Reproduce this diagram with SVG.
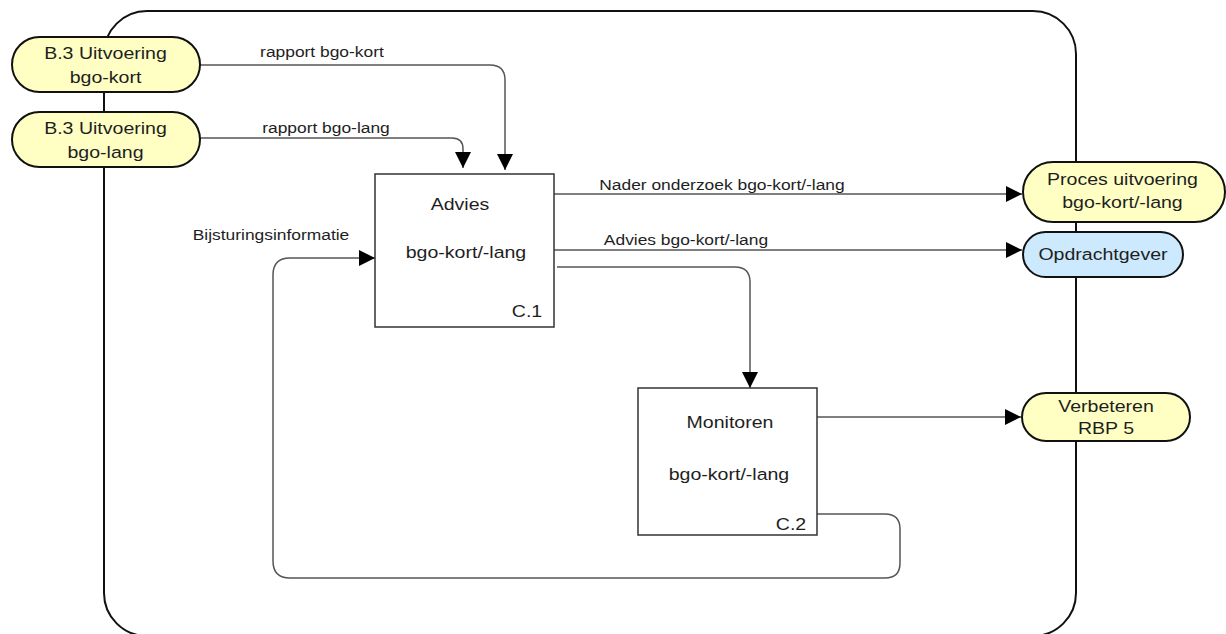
<svg xmlns="http://www.w3.org/2000/svg" width="1226" height="634" viewBox="0 0 1226 634">
<style>
text{font-family:"Liberation Sans",Arial,sans-serif;fill:#1e1e1e;text-anchor:middle;transform-box:fill-box;transform-origin:center;}
.nt{font-size:17px;transform:scaleX(1.15);}
.lb{font-size:14.5px;transform:scaleX(1.2);}
.pill{stroke:#111;stroke-width:2;}
.y{fill:#FFFFC4;}
.b{fill:#CDE9FD;}
.box{fill:#fff;stroke:#333;stroke-width:1.5;}
.c{fill:none;stroke:#555;stroke-width:1.5;}
</style>
<defs>
<marker id="ah" viewBox="0 0 16 16" refX="16" refY="8" markerWidth="16" markerHeight="16" markerUnits="userSpaceOnUse" orient="auto">
<path d="M0,0 L16,8 L0,16 Z" fill="#000"/>
</marker>
</defs>
<rect id="frame" x="104" y="11" width="972" height="625" rx="43" ry="43" fill="none" stroke="#111" stroke-width="2"/>
<g id="connectors">
<path class="c" d="M200,65 H490 Q505,65 505,80 V170" marker-end="url(#ah)"/>
<path class="c" d="M200,138 H452 Q463,138 463,149 V168" marker-end="url(#ah)"/>
<path class="c" d="M554,194 H1022" marker-end="url(#ah)"/>
<path class="c" d="M554,250 H1022" marker-end="url(#ah)"/>
<path class="c" d="M557,267 H735 Q750,267 750,282 V388" marker-end="url(#ah)"/>
<path class="c" d="M817,417 H1021" marker-end="url(#ah)"/>
<path class="c" d="M817,514 H885 Q900,514 900,529 V563 Q900,578 885,578 H290 Q273,578 273,561 V275 Q273,258 290,258 H375" marker-end="url(#ah)"/>
<text class="lb" x="322" y="57">rapport bgo-kort</text>
<text class="lb" x="326" y="133">rapport bgo-lang</text>
<text class="lb" x="722" y="190">Nader onderzoek bgo-kort/-lang</text>
<text class="lb" x="686" y="245">Advies bgo-kort/-lang</text>
<text class="lb" x="271" y="240">Bijsturingsinformatie</text>
</g>
<g id="b3kort">
<rect class="pill y" x="12" y="37" width="188" height="55" rx="27.5"/>
<text class="nt" x="105.5" y="59">B.3 Uitvoering</text>
<text class="nt" x="105.5" y="83">bgo-kort</text>
</g>
<g id="b3lang">
<rect class="pill y" x="12" y="112" width="188" height="55" rx="27.5"/>
<text class="nt" x="105.5" y="134">B.3 Uitvoering</text>
<text class="nt" x="105.5" y="158">bgo-lang</text>
</g>
<g id="advies">
<rect class="box" x="375" y="174" width="179" height="153"/>
<text class="nt" x="460" y="210">Advies</text>
<text class="nt" x="466" y="258">bgo-kort/-lang</text>
<text class="nt" x="527" y="317">C.1</text>
</g>
<g id="monitoren">
<rect class="box" x="638" y="388" width="179" height="147"/>
<text class="nt" x="730" y="428">Monitoren</text>
<text class="nt" x="729" y="480">bgo-kort/-lang</text>
<text class="nt" x="791" y="530">C.2</text>
</g>
<g id="proces">
<rect class="pill y" x="1023" y="162" width="202" height="60" rx="30"/>
<text class="nt" x="1122.5" y="185">Proces uitvoering</text>
<text class="nt" x="1122.5" y="208">bgo-kort/-lang</text>
</g>
<g id="opdrachtgever">
<rect class="pill b" x="1023" y="232" width="160" height="45" rx="22.5"/>
<text class="nt" x="1103" y="260">Opdrachtgever</text>
</g>
<g id="verbeteren">
<rect class="pill y" x="1022" y="393" width="168" height="48" rx="24"/>
<text class="nt" x="1106" y="412">Verbeteren</text>
<text class="nt" x="1106" y="434">RBP 5</text>
</g>
</svg>
